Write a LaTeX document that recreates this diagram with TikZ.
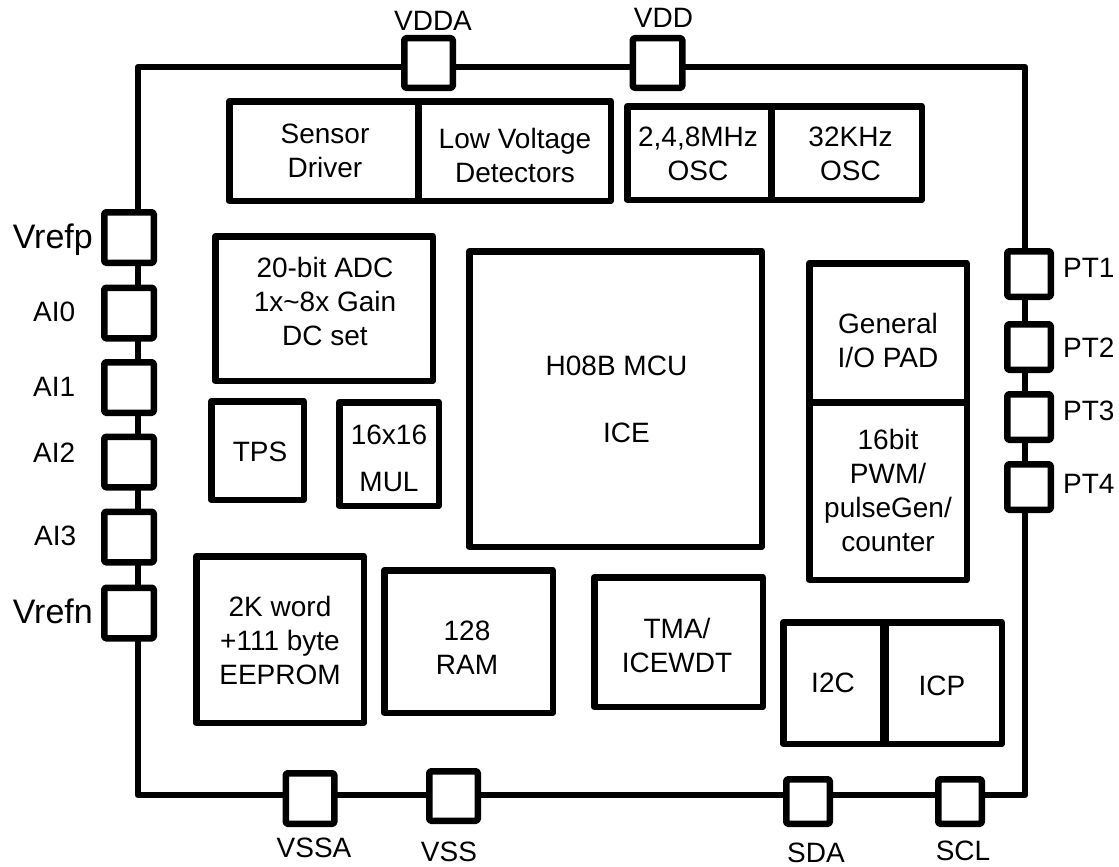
\documentclass[tikz,border=0pt]{standalone}
\usepackage{fontspec}
\setmainfont{Liberation Sans}
\begin{document}
\begin{tikzpicture}[x=1pt,y=-1pt,
  box/.style={draw, line width=6.5pt, line join=round, fill=white, inner sep=0pt},
  pad/.style={draw, line width=6.5pt, line join=round, rounded corners=1.5pt, fill=white, inner sep=0pt},
  lpad/.style={pad, minimum width=49.5pt, minimum height=50.5pt},
  rpad/.style={pad, minimum width=43.5pt, minimum height=45.5pt},
  bpad/.style={pad, minimum width=43.5pt, minimum height=44.5pt},
  txt/.style={inner sep=0pt, align=center, font=\fontsize{28}{34}\selectfont},
  big/.style={inner sep=0pt, font=\fontsize{34}{40}\selectfont},
  wire/.style={line width=6.5pt, line join=round}]
\useasboundingbox (0,0) rectangle (1119,867);

% frame
\coordinate (tl) at (138,67);
\coordinate (tr) at (1025,67);
\coordinate (br) at (1025,795);
\coordinate (bl) at (138,795);
\draw[wire] (tl) -- (tr) -- (br) -- (bl) -- cycle;

% top pads
\node[pad, minimum width=48.5pt, minimum height=49.5pt] (vdda) at (428.5,63) {};
\node[pad, minimum width=49.5pt, minimum height=49.5pt] (vdd) at (657.5,63) {};
\node[txt] (lvdda) at (433,20.5) {VDDA};
\node[txt] (lvdd) at (663.5,17.5) {VDD};

% left pads
\node[lpad] (vrefp) at (129,237.5) {};
\node[lpad] (ai0) at (129,313) {};
\node[lpad] (ai1) at (129,387.5) {};
\node[lpad] (ai2) at (129,462) {};
\node[lpad] (ai3) at (129,537) {};
\node[lpad] (vrefn) at (129,613) {};
\node[big, anchor=east] (lvrefp) at (93,240) {Vrefp};
\node[txt, anchor=west] (lai0) at (33,312) {AI0};
\node[txt, anchor=west] (lai1) at (33,386.5) {AI1};
\node[txt, anchor=west] (lai2) at (33,453) {AI2};
\node[txt, anchor=west] (lai3) at (34,536) {AI3};
\node[big, anchor=east] (lvrefn) at (93,611) {Vrefn};

% right pads
\node[rpad] (pt1) at (1029,274) {};
\node[rpad] (pt2) at (1029,347) {};
\node[rpad] (pt3) at (1029,417) {};
\node[rpad] (pt4) at (1029,487) {};
\node[txt, anchor=west] (lpt1) at (1063,268) {PT1};
\node[txt, anchor=west] (lpt2) at (1063,348) {PT2};
\node[txt, anchor=west] (lpt3) at (1063,411) {PT3};
\node[txt, anchor=west] (lpt4) at (1063,484) {PT4};

% bottom pads
\node[pad, minimum width=48.5pt, minimum height=50.5pt] (vssa) at (310,798.5) {};
\node[pad, minimum width=48.5pt, minimum height=49.5pt] (vss) at (453.5,796) {};
\node[bpad] (sda) at (808,801.5) {};
\node[bpad] (scl) at (960,801.5) {};
\node[txt] (lvssa) at (314,848) {VSSA};
\node[txt] (lvss) at (449,851.5) {VSS};
\node[txt] (lsda) at (816,853) {SDA};
\node[txt] (lscl) at (963,851) {SCL};

% blocks
\node[box, minimum width=192.5pt, minimum height=99.5pt] (sensor) at (325.5,151) {};
\node[box, minimum width=192.5pt, minimum height=99.5pt] (lvd) at (514.5,151) {};
\node[box, minimum width=143.5pt, minimum height=93.5pt] (mosc) at (699,153) {};
\node[box, minimum width=150.5pt, minimum height=93.5pt] (kosc) at (846.5,153) {};
\node[box, minimum width=217.5pt, minimum height=144.5pt] (adc) at (324,308.5) {};
\node[box, minimum width=292.5pt, minimum height=295.5pt] (mcu) at (615.5,399) {};
\node[box, minimum width=157.5pt, minimum height=138.5pt] (gio) at (888,332.5) {};
\node[box, minimum width=157.5pt, minimum height=177.5pt] (pwm) at (888,491) {};
\node[box, minimum width=92.5pt, minimum height=98.5pt] (tps) at (257.5,450.5) {};
\node[box, minimum width=99.5pt, minimum height=103.5pt] (mul) at (389,454) {};
\node[box, minimum width=167.5pt, minimum height=166.5pt] (eep) at (280,639.5) {};
\node[box, minimum width=168.5pt, minimum height=142.5pt] (ram) at (468.5,641.5) {};
\node[box, minimum width=168.5pt, minimum height=129.5pt] (tma) at (678.5,642) {};
\node[box, minimum width=99.5pt, minimum height=121.5pt] (i2c) at (833,683) {};
\node[box, minimum width=118.5pt, minimum height=121.5pt] (icp) at (942.5,683) {};
\draw[line width=6pt] (i2c.north east) -- (i2c.south east);

% block texts
\node[txt] (tsensor) at (325,151) {Sensor\\Driver};
\node[txt] (tlvd) at (515,155) {Low Voltage\\Detectors};
\node[txt] (tmosc) at (698,154) {2,4,8MHz\\OSC};
\node[txt] (tkosc) at (850.5,154) {32KHz\\OSC};
\node[txt] (tadc) at (325,301) {20-bit ADC\\1x\textasciitilde 8x Gain\\DC set};
\node[txt] (tmcu) at (616.5,366) {H08B MCU};
\node[txt] (tice) at (626.5,433) {ICE};
\node[txt] (tgio) at (888,340) {General\\I/O PAD};
\node[txt] (tpwm) at (888,490) {16bit\\PWM/\\pulseGen/\\counter};
\node[txt] (ttps) at (260,452) {TPS};
\node[txt] (tmul) at (389,458.5) {16x16\\[13pt]MUL};
\node[txt] (teep) at (280,640) {2K word\\+111 byte\\EEPROM};
\node[txt] (tram) at (467,648) {128\\RAM};
\node[txt] (ttma) at (677,645) {TMA/\\ICEWDT};
\node[txt] (ti2c) at (833,683) {I2C};
\node[txt] (ticp) at (942,686) {ICP};
\end{tikzpicture}
\end{document}
